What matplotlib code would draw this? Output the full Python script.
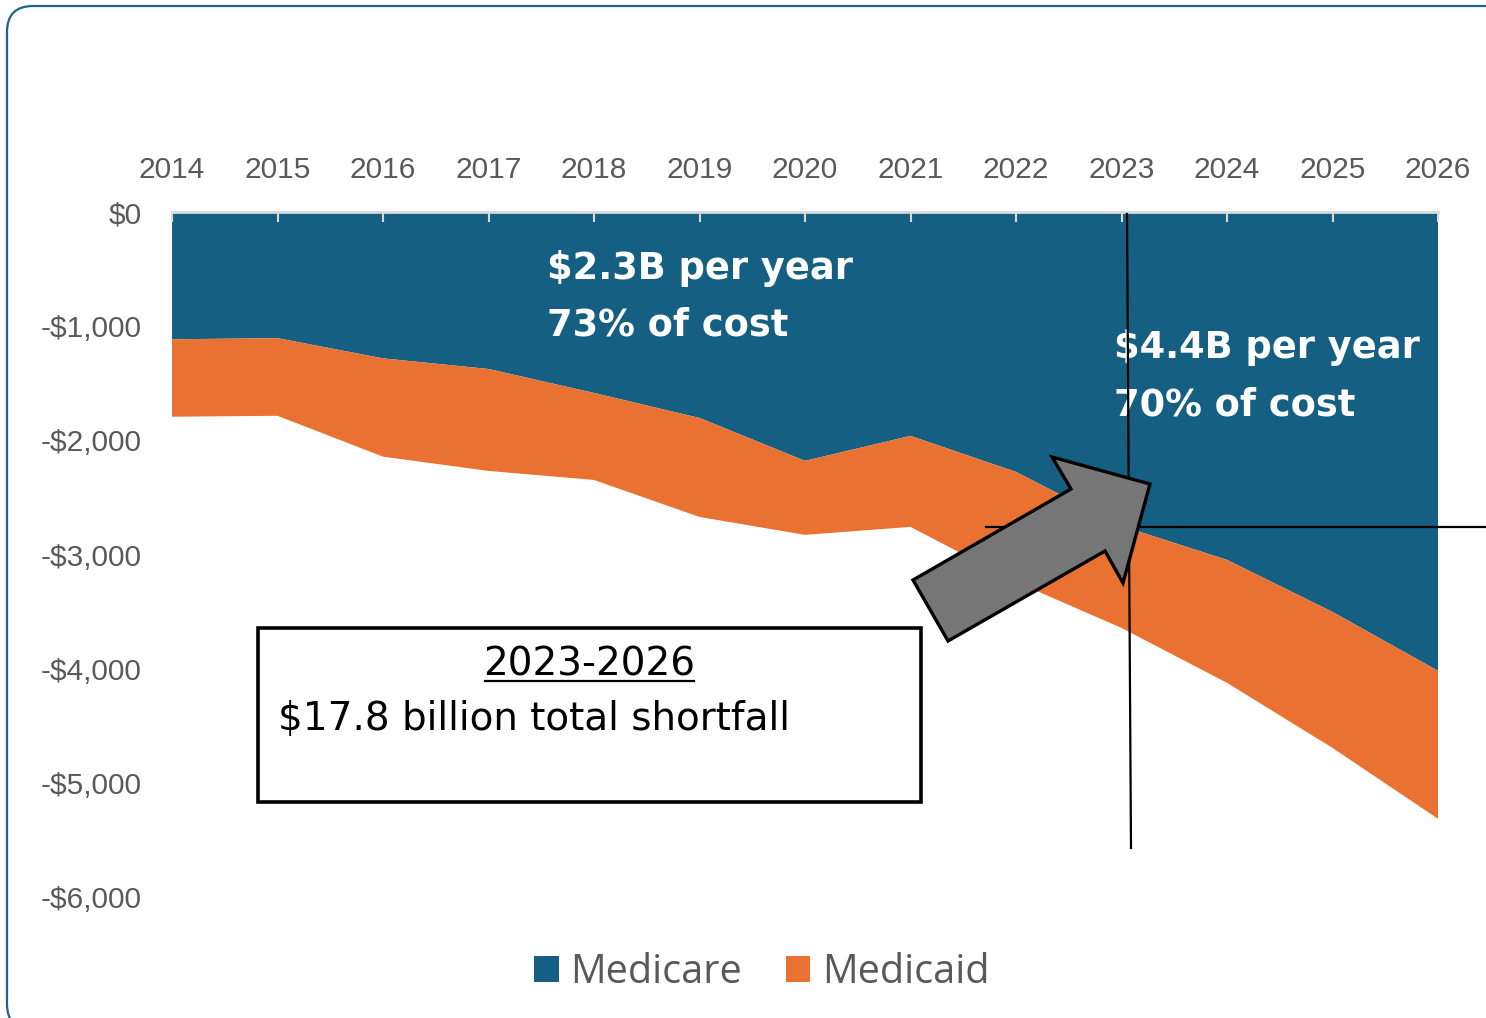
import matplotlib
matplotlib.use("Agg")
import matplotlib.pyplot as plt
from matplotlib.patches import Polygon, Rectangle, FancyBboxPatch, Patch
from matplotlib.lines import Line2D
from matplotlib.ticker import FuncFormatter, FixedLocator
from matplotlib.transforms import IdentityTransform

# ---- data (in $ millions) ----
years = [2014, 2015, 2016, 2017, 2018, 2019, 2020, 2021, 2022, 2023, 2024, 2025, 2026]
medicare = [-1115, -1105, -1282, -1375, -1585, -1804, -2180, -1961, -2277, -2750, -3047, -3503, -4019]
medicaid = [-678, -680, -861, -893, -762, -867, -648, -797, -963, -893, -1077, -1191, -1296]
series_names = ["Medicare", "Medicaid"]
y_ticks = [0, -1000, -2000, -3000, -4000, -5000, -6000]

BLUE = "#156082"
ORANGE = "#E97132"
GRAY = "#595959"

W, H = 1486, 1018
fig = plt.figure(figsize=(W / 100, H / 100), dpi=100)
fig.patch.set_facecolor("white")


def fx(x):
    return x / W


def fy(y):
    return 1 - y / H


ax = fig.add_axes([fx(172), fy(897), fx(1438) - fx(172), fy(212) - fy(897)])
ax.stackplot(years, medicare, medicaid, colors=[BLUE, ORANGE], labels=series_names, zorder=1)
ax.set_xlim(years[0], years[-1])
ax.set_ylim(-6000, 0)

ax.xaxis.tick_top()
ax.xaxis.set_major_locator(FixedLocator(years))
ax.set_xticklabels([str(y) for y in years])
ax.tick_params(axis="x", direction="in", length=7, width=1.5, color="#D9D9D9",
               pad=20, labelsize=21.5, labelcolor=GRAY)
ax.yaxis.set_major_locator(FixedLocator(y_ticks))
ax.yaxis.set_major_formatter(FuncFormatter(lambda v, p: ("-$" if v < 0 else "$") + f"{abs(int(v)):,}"))
ax.tick_params(axis="y", length=0, pad=22, labelsize=21.5, labelcolor=GRAY)
for lab in ax.get_xticklabels() + ax.get_yticklabels():
    lab.set_family("Liberation Sans")
for s in ["left", "right", "bottom"]:
    ax.spines[s].set_visible(False)
ax.spines["top"].set_color("#D9D9D9")
ax.spines["top"].set_linewidth(2)
ax.set_facecolor("none")

# ---- annotations ----
bold = dict(color="white", fontsize=26.5, fontweight="bold", family="DejaVu Sans", va="baseline",
            ha="left", zorder=3)
fig.text(fx(547), fy(279), "$2.3B per year", **bold)
fig.text(fx(547), fy(335), "73% of cost", **bold)
fig.text(fx(1114), fy(358), "$4.4B per year", **bold)
fig.text(fx(1114), fy(415), "70% of cost", **bold)

# black guide lines
fig.add_artist(Line2D([fx(1127), fx(1131)], [fy(214), fy(848)], color="black", lw=1.6,
                      transform=fig.transFigure, zorder=5))
fig.add_artist(Line2D([fx(986), fx(1486)], [fy(527), fy(527)], color="black", lw=1.6,
                      transform=fig.transFigure, zorder=5))

# block arrow
arrow_px = [(913, 580), (948, 641), (1105, 551), (1123, 583), (1150, 484), (1052, 457), (1071, 489)]
fig.add_artist(Polygon([(fx(x), fy(y)) for x, y in arrow_px], closed=True, facecolor="#767676",
                       edgecolor="black", lw=2.4, joinstyle="miter", transform=fig.transFigure, zorder=6))

# text box
fig.add_artist(Rectangle((fx(258), fy(802)), fx(921) - fx(258), fy(628) - fy(802), facecolor="white",
                         edgecolor="black", lw=2.6, transform=fig.transFigure, zorder=6))
fig.text(fx(589), fy(675), "2023-2026", fontsize=28, family="DejaVu Sans", color="black",
         ha="center", va="baseline", zorder=7)
fig.add_artist(Line2D([fx(485), fx(694)], [fy(681), fy(681)], color="black", lw=1.6,
                      transform=fig.transFigure, zorder=7))
fig.text(fx(278), fy(730), "$17.8 billion total shortfall", fontsize=28, family="DejaVu Sans",
         color="black", ha="left", va="baseline", zorder=7)

# legend
handles = [Patch(facecolor=BLUE), Patch(facecolor=ORANGE)]
leg = fig.legend(handles, series_names, loc="center", bbox_to_anchor=(fx(762), fy(973)), ncol=2,
                 frameon=False, prop={"family": "Open Sans", "size": 28.5}, handlelength=0.62,
                 handleheight=0.62, handletextpad=0.3, columnspacing=1.1, borderpad=0)
for t in leg.get_texts():
    t.set_color(GRAY)

# outer rounded border
fig.add_artist(FancyBboxPatch((7, -12), 1510, 1024, boxstyle="round,pad=0,rounding_size=26",
                              facecolor="none", edgecolor="#1F6391", lw=1.6,
                              transform=IdentityTransform(), zorder=10))

fig.savefig("out.png", dpi=100, facecolor="white")
